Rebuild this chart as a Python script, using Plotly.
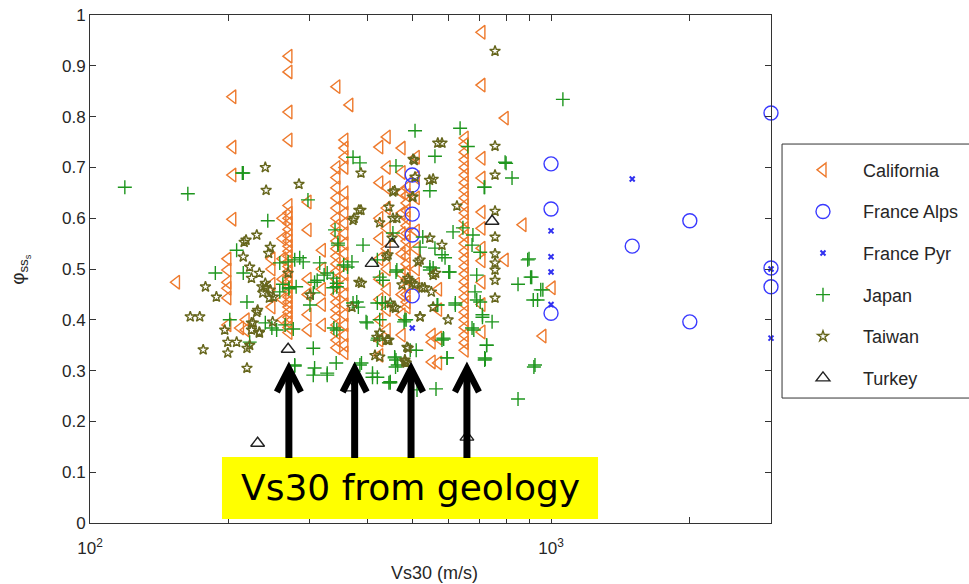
import plotly.graph_objects as go
import math

# ---------------- data ----------------
# California: columns of points sharing one Vs30 value
cal_col_vs30 = [154, 199, 204, 212, 218, 248, 262, 270, 297, 319, 343, 357, 366,
                425, 441, 475, 487, 510, 552, 570, 651, 708, 795, 869, 960, 1005]
cal_col_phi = [
    [0.474],
    [0.52, 0.498, 0.474, 0.462, 0.443, 0.39],
    [0.839, 0.740, 0.685, 0.598],
    [0.384],
    [0.40, 0.38],
    [0.52, 0.50, 0.47, 0.425],
    [0.60, 0.56, 0.52, 0.48, 0.44, 0.40],
    [0.919, 0.888, 0.809, 0.754, 0.625, 0.61, 0.60, 0.59, 0.578, 0.565, 0.555, 0.545,
     0.535, 0.525, 0.515, 0.505, 0.495, 0.485, 0.475, 0.465, 0.455, 0.445, 0.435,
     0.425, 0.415, 0.405, 0.395, 0.385, 0.375],
    [0.632, 0.577, 0.48, 0.45, 0.41, 0.38],
    [0.537, 0.50, 0.46, 0.43, 0.39],
    [0.859, 0.70, 0.68, 0.66, 0.64, 0.62, 0.60, 0.585, 0.57, 0.555, 0.54, 0.525, 0.51,
     0.495, 0.48, 0.465, 0.45, 0.435, 0.42, 0.405, 0.39, 0.375, 0.36, 0.345],
    [0.754, 0.738, 0.72, 0.70, 0.65, 0.63, 0.61, 0.59, 0.57, 0.55, 0.53, 0.51, 0.49,
     0.47, 0.45, 0.43, 0.41, 0.39, 0.37, 0.35, 0.335],
    [0.823],
    [0.74, 0.67, 0.60, 0.56, 0.52, 0.48, 0.44, 0.40, 0.36, 0.33],
    [0.76, 0.70, 0.66, 0.62, 0.58, 0.54, 0.50, 0.46, 0.42, 0.38],
    [0.738, 0.69, 0.65, 0.61, 0.57, 0.53, 0.49, 0.45, 0.41, 0.37],
    [0.66, 0.645, 0.63, 0.615, 0.60, 0.585, 0.57, 0.555, 0.54, 0.525, 0.51, 0.495,
     0.48, 0.465, 0.45, 0.435, 0.425],
    [0.72, 0.68, 0.64, 0.575, 0.54, 0.50, 0.47],
    [0.37, 0.317, 0.356],
    [0.364, 0.46, 0.42, 0.315],
    [0.758, 0.745, 0.73, 0.715, 0.70, 0.685, 0.67, 0.655, 0.64, 0.625, 0.61, 0.595,
     0.58, 0.565, 0.55, 0.535, 0.52, 0.505, 0.49, 0.475, 0.46, 0.445, 0.43, 0.415,
     0.40, 0.385, 0.37, 0.355, 0.34],
    [0.966, 0.862, 0.718, 0.679, 0.612, 0.58, 0.541, 0.516, 0.474, 0.43, 0.376],
    [0.797, 0.518],
    [0.587],
    [0.368],
    [0.463],
]

alps_vs30 = [500, 500, 500, 500, 500, 1000, 1000, 1000, 1500, 2000, 2000, 3000, 3000, 3000]
alps_phi = [0.685, 0.665, 0.608, 0.567, 0.447, 0.707, 0.618, 0.413, 0.545, 0.595, 0.396,
            0.807, 0.502, 0.465]

pyr_vs30 = [1500, 1000, 1000, 1000, 1000, 3000, 3000, 500]
pyr_phi = [0.677, 0.575, 0.524, 0.494, 0.43, 0.50, 0.364, 0.384]

japan_pts = [
    (119, 0.661), (163, 0.648), (214, 0.689), (243, 0.595), (297, 0.636), (372, 0.72),
    (385, 0.709), (461, 0.703), (507, 0.772), (635, 0.777), (660, 0.741), (560, 0.722),
    (546, 0.654), (799, 0.708), (823, 0.679), (716, 0.661), (1061, 0.834), (896, 0.52),
    (903, 0.484), (848, 0.47), (950, 0.459), (915, 0.439), (918, 0.307), (848, 0.244),
    (725, 0.35), (720, 0.323), (745, 0.396), (710, 0.405), (690, 0.439), (680, 0.38),
    (595, 0.325), (563, 0.264), (585, 0.362), (620, 0.433), (512, 0.262), (448, 0.276),
    (458, 0.327), (465, 0.311), (480, 0.396), (495, 0.34), (546, 0.498), (600, 0.494),
    (187, 0.492), (219, 0.435), (201, 0.40), (222, 0.356), (248, 0.384), (278, 0.309),
    (307, 0.305), (305, 0.291), (327, 0.291), (305, 0.344), (342, 0.315), (385, 0.311),
    (410, 0.287), (420, 0.287), (445, 0.276), (460, 0.307), (397, 0.396), (425, 0.40),
    (420, 0.36), (420, 0.433), (430, 0.433), (372, 0.433), (382, 0.425), (338, 0.384),
    (343, 0.38), (337, 0.463), (343, 0.465), (311, 0.478), (322, 0.488), (355, 0.508),
    (280, 0.465), (270, 0.463), (258, 0.455), (262, 0.47), (305, 0.453), (420, 0.518),
    (520, 0.543), (580, 0.528), (546, 0.504), (432, 0.478), (461, 0.494), (568, 0.429),
    (437, 0.433), (485, 0.40), (580, 0.36), (510, 0.34), (461, 0.321),
    (613, 0.573), (644, 0.581), (677, 0.567), (674, 0.547), (702, 0.533), (527, 0.563),
    (560, 0.541), (589, 0.522), (555, 0.502), (603, 0.494), (690, 0.488), (684, 0.455),
    (702, 0.435), (710, 0.41), (620, 0.429), (566, 0.429), (674, 0.384), (584, 0.364),
    (595, 0.325), (718, 0.325),
    (454, 0.571), (463, 0.498), (345, 0.551), (391, 0.547), (370, 0.514), (362, 0.504),
    (425, 0.484), (343, 0.472), (379, 0.435), (482, 0.40), (421, 0.364), (399, 0.394),
    (458, 0.325), (388, 0.315), (410, 0.295), (448, 0.278),
    (340, 0.577), (345, 0.547), (278, 0.518), (258, 0.512), (269, 0.514), (285, 0.522),
    (315, 0.512), (327, 0.492), (307, 0.474), (337, 0.482), (300, 0.429), (254, 0.38),
    (278, 0.311), (327, 0.295),
    (795, 0.71), (718, 0.661), (890, 0.518), (908, 0.484), (935, 0.439), (960, 0.459),
    (725, 0.35), (718, 0.321), (923, 0.311),
    (215, 0.689), (208, 0.537), (215, 0.492), (240, 0.394), (270, 0.461), (265, 0.39),
    (276, 0.382), (290, 0.514),
]

taiwan_pts = [
    (240, 0.70), (241, 0.655), (230, 0.567), (218, 0.557), (215, 0.524), (222, 0.504),
    (233, 0.492), (178, 0.465), (188, 0.445), (165, 0.406), (176, 0.341), (196, 0.38),
    (199, 0.356), (199, 0.335), (208, 0.356), (219, 0.344), (219, 0.305), (224, 0.38),
    (233, 0.374), (230, 0.415), (224, 0.394), (236, 0.465), (237, 0.453), (216, 0.553),
    (246, 0.543), (244, 0.531), (224, 0.482), (241, 0.463), (245, 0.443), (231, 0.419),
    (226, 0.394), (233, 0.376), (222, 0.35), (173, 0.406),
    (249, 0.396), (250, 0.445), (246, 0.459), (240, 0.472), (269, 0.492), (300, 0.449),
    (388, 0.472), (425, 0.374), (425, 0.327), (440, 0.36), (455, 0.425),
    (284, 0.667), (387, 0.689), (387, 0.616), (372, 0.596), (425, 0.591), (454, 0.652),
    (454, 0.60), (440, 0.524),
    (756, 0.929), (580, 0.748), (502, 0.716), (756, 0.742), (756, 0.685), (555, 0.677),
    (507, 0.681), (458, 0.654), (445, 0.622), (502, 0.642), (625, 0.624), (756, 0.614),
    (463, 0.60), (756, 0.563), (546, 0.561), (580, 0.547), (443, 0.528), (515, 0.514),
    (756, 0.512), (756, 0.478), (756, 0.443), (598, 0.40), (555, 0.425), (520, 0.406),
    (490, 0.344), (482, 0.317), (443, 0.36), (448, 0.433), (475, 0.469), (500, 0.472),
    (525, 0.463), (555, 0.488), (756, 0.498), (756, 0.53),
    (383, 0.616), (374, 0.60), (452, 0.561), (383, 0.474), (370, 0.425), (419, 0.366),
    (445, 0.36), (415, 0.33), (485, 0.315), (487, 0.346), (492, 0.478), (500, 0.642),
    (505, 0.714), (568, 0.748), (545, 0.675), (520, 0.518), (562, 0.492), (489, 0.482),
    (507, 0.469), (532, 0.463), (550, 0.455), (520, 0.406), (460, 0.423), (482, 0.321),
]

turkey_vs30 = [231, 269, 366, 409, 452, 745, 657]
turkey_phi = [0.157, 0.342, 0.266, 0.511, 0.549, 0.594, 0.169]

arrow_vs30 = [270, 375, 497, 657]

x_tick_vals = [100, 1000]
x_tick_text = ["10<sup>2</sup>", "10<sup>3</sup>"]
x_minor_vals = [200, 300, 400, 500, 600, 700, 800, 900, 2000, 3000]
y_tick_vals = [0, 0.1, 0.2, 0.3, 0.4, 0.5, 0.6, 0.7, 0.8, 0.9, 1]

# ---------------- figure ----------------
cal_x = [v for v, col in zip(cal_col_vs30, cal_col_phi) for _ in col]
cal_y = [p for col in cal_col_phi for p in col]

FONT = "Liberation Sans, Arial, sans-serif"
TXT = "#262626"
fig = go.Figure()

def add(name, x, y, symbol, size, color, lw, group):
    fig.add_trace(go.Scatter(
        x=x, y=y, mode="markers", name=name, legendgroup=group,
        marker=dict(symbol=symbol, size=size, color=color,
                    line=dict(color=color, width=lw)),
        cliponaxis=False,
    ))

add("California", cal_x, cal_y, "triangle-left-open", 12, "#EE7A2D", 1.4, "a")
add("France Alps", alps_vs30, alps_phi, "circle-open", 14, "#3A3AFF", 1.4, "b")
add("France Pyr", pyr_vs30, pyr_phi, "x-thin-open", 5, "#3030F0", 2, "c")
add("Japan", [p[0] for p in japan_pts], [p[1] for p in japan_pts],
    "cross-thin-open", 10, "#1E961E", 1.4, "d")
add("Taiwan", [p[0] for p in taiwan_pts], [p[1] for p in taiwan_pts],
    "star-open", 8, "#66661C", 1.4, "e")
add("Turkey", turkey_vs30, turkey_phi, "triangle-up-open", 12, "#222222", 1.4, "f")

axis_common = dict(showline=True, linecolor="#333333", linewidth=1, mirror="ticks",
                   ticks="inside", ticklen=6, tickcolor="#333333", showgrid=False,
                   zeroline=False, tickfont=dict(family=FONT, size=17, color=TXT))

fig.update_xaxes(type="log", range=[2, math.log10(3000)], tickmode="array",
                 tickvals=x_tick_vals, ticktext=x_tick_text, ticklabelstandoff=10,
                 minor=dict(tickmode="array", tickvals=x_minor_vals, ticks="inside",
                            ticklen=6, tickcolor="#333333", showgrid=False),
                 **axis_common)
fig.update_yaxes(range=[0, 1], tickmode="array", tickvals=y_tick_vals, **axis_common)

shapes = []
# yellow box
shapes.append(dict(type="rect", xref="paper", yref="paper", x0=0.1938, x1=0.746,
                   y0=0.008, y1=0.130, fillcolor="#FFFF00", line=dict(width=0),
                   layer="above"))
# arrows
for v in arrow_vs30:
    shapes.append(dict(type="line", xref="x", yref="y", xsizemode="pixel", xanchor=v,
                       x0=0, x1=0, y0=0.128, y1=0.300,
                       line=dict(color="black", width=7), layer="above"))
    shapes.append(dict(type="path", xref="x", yref="y", xsizemode="pixel", xanchor=v,
                       path="M -12,0.258 L 0,0.304 L 12,0.258",
                       line=dict(color="black", width=6.5), layer="above"))
# legend frame
shapes.append(dict(type="rect", xref="paper", yref="paper", x0=1.0162, x1=1.35,
                   y0=0.246, y1=0.746, line=dict(color="#333333", width=1),
                   fillcolor="rgba(0,0,0,0)", layer="above"))

annotations = [
    dict(text="Vs30 from geology", xref="paper", yref="paper", x=0.4699, y=0.0689,
         showarrow=False, font=dict(family="DejaVu Sans", size=36, color="black"),
         xanchor="center", yanchor="middle"),
    dict(text="Vs30 (m/s)", xref="paper", yref="paper", x=0.506, y=-0.098,
         showarrow=False, font=dict(family=FONT, size=18, color=TXT),
         xanchor="center", yanchor="middle"),
    dict(text="\u03c6<sub>ss<sub>s</sub></sub>", xref="paper", yref="paper", x=-0.103,
         y=0.50, showarrow=False, textangle=-90,
         font=dict(family=FONT, size=19, color=TXT),
         xanchor="center", yanchor="middle"),
]

fig.update_layout(
    width=969, height=584,
    margin=dict(l=90, r=198, t=15, b=61, autoexpand=False),
    paper_bgcolor="white", plot_bgcolor="white",
    shapes=shapes, annotations=annotations,
    showlegend=True,
    legend=dict(x=1.0176, y=0.731, xanchor="left", yanchor="top",
                bgcolor="rgba(0,0,0,0)", borderwidth=0, itemwidth=70,
                tracegroupgap=15.2, traceorder="grouped",
                font=dict(family=FONT, size=18, color=TXT)),
)

fig.write_html("out.html")
